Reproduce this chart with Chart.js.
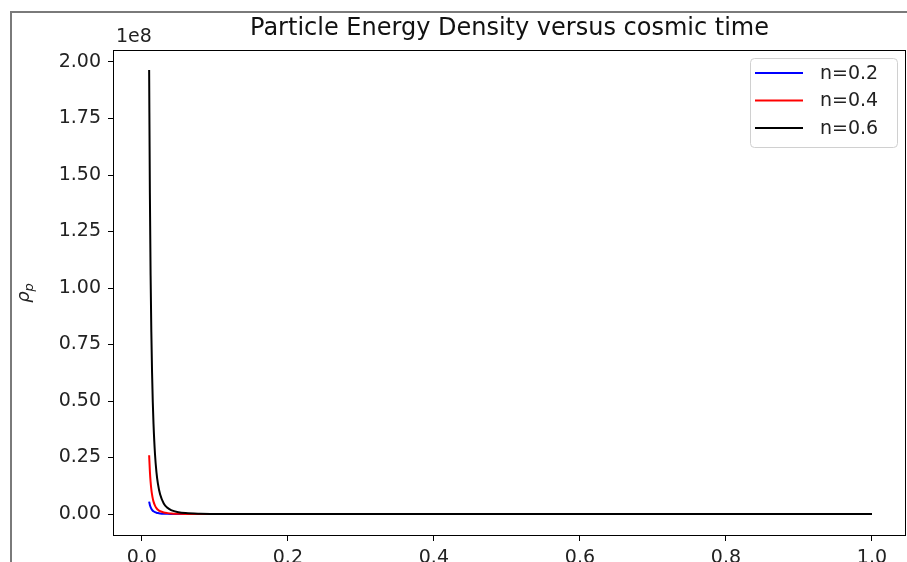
<!DOCTYPE html>
<html>
<head>
<meta charset="utf-8">
<script src="https://cdn.jsdelivr.net/npm/chart.js@4"></script>
<style>
  html, body { margin: 0; padding: 0; background: #fff; overflow: hidden; }
  #wrap { position: absolute; left: 0; top: 0; width: 907px; height: 600px; }
</style>
</head>
<body>
<div id="wrap"><canvas id="rhoChart" width="907" height="600"></canvas></div>
<script>
// cosmic time samples and particle energy density (units of 1e8)
const time = [0.01, 0.011, 0.012, 0.013, 0.014, 0.015, 0.016, 0.018, 0.02, 0.022, 0.025, 0.03, 0.035, 0.04, 0.05, 0.06, 0.08, 0.1, 0.2, 0.4, 0.6, 0.8, 1.0];
const rhoN02 = [0.055, 0.0405, 0.0307, 0.0237, 0.0187, 0.015, 0.0122, 0.0084, 0.006, 0.0044, 0.0029, 0.0016, 0.001, 0.0006, 0.0003, 0.00015, 0.00005, 0.00002, 0, 0, 0, 0, 0];
const rhoN04 = [0.26, 0.19, 0.1425, 0.1094, 0.0857, 0.0682, 0.0551, 0.0374, 0.0264, 0.0193, 0.0126, 0.0069, 0.0042, 0.0027, 0.0013, 0.0007, 0.0003, 0.0001, 0, 0, 0, 0, 0];
const rhoN06 = [1.965, 1.421, 1.057, 0.805, 0.626, 0.495, 0.398, 0.266, 0.186, 0.1346, 0.0872, 0.047, 0.0278, 0.0176, 0.0083, 0.0044, 0.0017, 0.0008, 0.00008, 0, 0, 0, 0];

const seriesLabels = ['n=0.2', 'n=0.4', 'n=0.6'];
const seriesColors = ['#0000ff', '#ff0000', '#000000'];
const seriesValues = [rhoN02, rhoN04, rhoN06];

const titleText = 'Particle Energy Density versus cosmic time';
const offsetText = '1e8';

const FONT = '"DejaVu Sans", sans-serif';

const toPoints = vals => time.map((t, i) => ({ x: t, y: vals[i] }));

// matplotlib-ish decorations: spines, title, offset text, y label, legend, outer frame
const decor = {
  id: 'decor',
  beforeDraw(chart) {
    const ctx = chart.ctx;
    ctx.save();
    ctx.fillStyle = '#fff';
    ctx.fillRect(0, 0, chart.width, chart.height);
    ctx.restore();
  },
  afterDraw(chart) {
    const { ctx, chartArea: a } = chart;
    ctx.save();

    // spines
    ctx.strokeStyle = '#000';
    ctx.lineWidth = 1;
    ctx.strokeRect(a.left + 0.5, a.top + 0.5, a.right - a.left - 1, a.bottom - a.top - 1);

    // title
    ctx.fillStyle = '#111';
    ctx.font = '24px ' + FONT;
    ctx.textAlign = 'center';
    ctx.textBaseline = 'middle';
    ctx.fillText(titleText, (a.left + a.right) / 2, 29);

    // offset text
    ctx.font = '19px ' + FONT;
    ctx.textAlign = 'left';
    ctx.textBaseline = 'bottom';
    ctx.fillStyle = '#222';
    ctx.fillText(offsetText, a.left + 3, a.top - 3);

    // y label rho_p
    ctx.save();
    ctx.translate(29, (a.top + a.bottom) / 2);
    ctx.rotate(-Math.PI / 2);
    ctx.textBaseline = 'alphabetic';
    ctx.font = 'italic 18px ' + FONT;
    const rw = ctx.measureText('ρ').width;
    ctx.font = 'italic 13px ' + FONT;
    const pw = ctx.measureText('p').width;
    const x0 = -(rw + pw) / 2;
    ctx.font = 'italic 18px ' + FONT;
    ctx.fillText('ρ', x0, 0);
    ctx.font = 'italic 13px ' + FONT;
    ctx.fillText('p', x0 + rw, 4);
    ctx.restore();

    // legend
    const lx = 750, ly = 58, lw = 147, lh = 89;
    ctx.beginPath();
    ctx.roundRect(lx + 0.5, ly + 0.5, lw, lh, 4);
    ctx.fillStyle = 'rgba(255,255,255,0.8)';
    ctx.fill();
    ctx.strokeStyle = '#d0d0d0';
    ctx.lineWidth = 1;
    ctx.stroke();
    ctx.font = '19px ' + FONT;
    ctx.textBaseline = 'middle';
    ctx.textAlign = 'left';
    seriesLabels.forEach((lab, i) => {
      const y = 73 + i * 27.5;
      ctx.strokeStyle = seriesColors[i];
      ctx.lineWidth = 2;
      ctx.beginPath();
      ctx.moveTo(755, y);
      ctx.lineTo(803, y);
      ctx.stroke();
      ctx.fillStyle = '#222';
      ctx.fillText(lab, 820, y + 1);
    });

    // outer frame of the screenshot
    ctx.strokeStyle = '#7a7a7a';
    ctx.lineWidth = 2;
    ctx.beginPath();
    ctx.moveTo(11, chart.height);
    ctx.lineTo(11, 12);
    ctx.lineTo(chart.width, 12);
    ctx.stroke();

    ctx.restore();
  }
};

const ctx = document.getElementById('rhoChart').getContext('2d');

const config = {
  type: 'line',
  data: {
    datasets: seriesValues.map((vals, i) => ({
      label: seriesLabels[i],
      data: toPoints(vals),
      borderColor: seriesColors[i],
      backgroundColor: seriesColors[i],
      borderWidth: 2,
      pointRadius: 0,
      fill: false,
      cubicInterpolationMode: 'monotone',
      order: 3 - i
    }))
  },
  options: {
    responsive: false,
    animation: false,
    devicePixelRatio: 1,
    layout: { padding: { top: 50, right: 1, left: 0, bottom: 0 } },
    plugins: {
      legend: { display: false },
      title: { display: false },
      tooltip: { enabled: false }
    },
    scales: {
      x: {
        type: 'linear',
        min: -0.0395,
        max: 1.0466,
        border: { display: false },
        grid: { drawOnChartArea: false, drawTicks: true, tickLength: 5, tickColor: '#000', color: '#000' },
        ticks: {
          stepSize: 0.2,
          includeBounds: false,
          padding: 6,
          color: '#222',
          font: { family: FONT, size: 19 },
          maxRotation: 0,
          callback: v => v.toFixed(1)
        },
        afterFit: s => { s.height = 64; }
      },
      y: {
        type: 'linear',
        min: -0.097,
        max: 2.053,
        border: { display: false },
        grid: { drawOnChartArea: false, drawTicks: true, tickLength: 5, tickColor: '#000', color: '#000' },
        ticks: {
          stepSize: 0.25,
          includeBounds: false,
          padding: 7,
          color: '#222',
          font: { family: FONT, size: 19 },
          callback: v => v.toFixed(2)
        },
        afterFit: s => { s.width = 113; }
      }
    }
  },
  plugins: [decor]
};

const rhoChart = new Chart(ctx, config);
</script>
</body>
</html>
